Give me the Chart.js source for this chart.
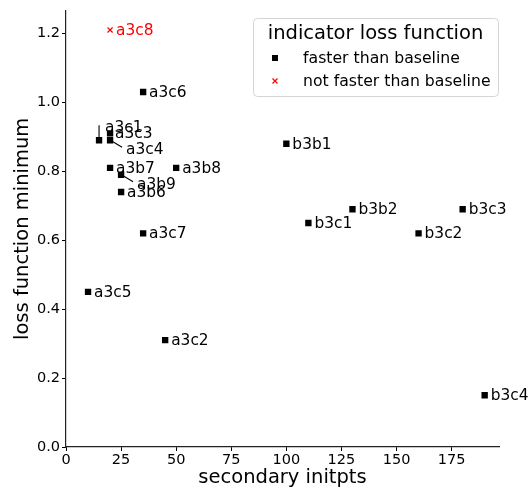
<!DOCTYPE html>
<html>
<head>
<meta charset="utf-8">
<script src="https://cdn.jsdelivr.net/npm/chart.js@4.4.1/dist/chart.umd.min.js"></script>
<style>
  html, body { margin: 0; padding: 0; background: #fff; }
  #wrap { width: 530px; height: 490px; }
</style>
</head>
<body>
<div id="wrap"><canvas id="c" width="530" height="490"></canvas></div>
<script>
// ---- data ----
const names   = ['a3c8','a3c6','a3c1','a3c3','a3c4','a3b7','a3b8','a3b9','a3b6','a3c7','a3c5','a3c2','b3b1','b3c1','b3b2','b3c2','b3c3','b3c4'];
const initpts = [20, 35, 15, 20, 20, 20, 50, 25, 25, 35, 10, 45, 100, 110, 130, 160, 180, 190];
const lossMin = [1.21, 1.03, 0.89, 0.91, 0.89, 0.81, 0.81, 0.79, 0.74, 0.62, 0.45, 0.31, 0.88, 0.65, 0.69, 0.62, 0.69, 0.15];
const faster  = [false, true, true, true, true, true, true, true, true, true, true, true, true, true, true, true, true, true];
const xTicks  = [0, 25, 50, 75, 100, 125, 150, 175];
const yTicks  = [0.0, 0.2, 0.4, 0.6, 0.8, 1.0, 1.2];
const seriesNames = ['faster than baseline', 'not faster than baseline'];
const legendTitle = 'indicator loss function';

// ---- label layout (pixel nudges, not data) ----
const nudge = {
  'a3c1': { dx: 6, dy: -13, line: [0, -3, 0, -15] },
  'a3c3': { dx: 5, dy: 0 },
  'a3c4': { dx: 16, dy: 9, line: [2, 1, 12, 7] },
  'a3b9': { dx: 16, dy: 9, line: [2, 1, 12, 7] }
};

const FONT = 'DejaVu Sans';
const fastPts = [], slowPts = [];
names.forEach((n, i) => {
  const p = { x: initpts[i], y: lossMin[i], name: n };
  (faster[i] ? fastPts : slowPts).push(p);
});

const labelPlugin = {
  id: 'pointLabels',
  afterDatasetsDraw(chart) {
    const ctx = chart.ctx, xs = chart.scales.x, ys = chart.scales.y;
    ctx.save();
    ctx.font = '15.4px "' + FONT + '"';
    ctx.textBaseline = 'middle';
    ctx.textAlign = 'left';
    names.forEach((n, i) => {
      const px = xs.getPixelForValue(initpts[i]);
      const py = ys.getPixelForValue(lossMin[i]);
      const nd = nudge[n] || { dx: 6, dy: 0 };
      const col = faster[i] ? '#000' : '#ff0000';
      if (nd.line) {
        ctx.strokeStyle = '#000';
        ctx.lineWidth = 1.1;
        ctx.beginPath();
        ctx.moveTo(px + nd.line[0], py + nd.line[1]);
        ctx.lineTo(px + nd.line[2], py + nd.line[3]);
        ctx.stroke();
      }
      ctx.fillStyle = col;
      ctx.fillText(n, px + nd.dx, py + nd.dy + 1);
    });
    ctx.restore();
  }
};

const legendPlugin = {
  id: 'customLegend',
  afterDraw(chart) {
    const ctx = chart.ctx;
    const bx = 253, by = 18, bw = 245, bh = 78, r = 4;
    ctx.save();
    ctx.beginPath();
    ctx.roundRect(bx + 0.5, by + 0.5, bw, bh, r);
    ctx.fillStyle = 'rgba(255,255,255,0.8)';
    ctx.fill();
    ctx.strokeStyle = '#d5d5d5';
    ctx.lineWidth = 1;
    ctx.stroke();
    ctx.fillStyle = '#000';
    ctx.textBaseline = 'middle';
    ctx.textAlign = 'center';
    ctx.font = '19.5px "' + FONT + '"';
    ctx.fillText(legendTitle, bx + bw / 2, 34);
    ctx.textAlign = 'left';
    ctx.font = '15.7px "' + FONT + '"';
    // marker 1: square
    ctx.fillStyle = '#000';
    ctx.fillRect(272, 55, 6, 6);
    ctx.fillText(seriesNames[0], 303, 59);
    // marker 2: x
    ctx.strokeStyle = '#ff0000';
    ctx.lineWidth = 1.2;
    ctx.beginPath();
    ctx.moveTo(272.5, 78.5); ctx.lineTo(277.5, 83.5);
    ctx.moveTo(277.5, 78.5); ctx.lineTo(272.5, 83.5);
    ctx.stroke();
    ctx.fillStyle = '#000';
    ctx.fillText(seriesNames[1], 303, 82);
    ctx.restore();
  }
};

new Chart(document.getElementById('c'), {
  type: 'scatter',
  data: {
    datasets: [
      { label: seriesNames[0], data: fastPts, pointStyle: 'rect', pointRadius: 4.5, pointHoverRadius: 4.5,
        backgroundColor: '#000', borderColor: '#000', borderWidth: 0 },
      { label: seriesNames[1], data: slowPts, pointStyle: 'crossRot', pointRadius: 3.6, pointHoverRadius: 3.6,
        backgroundColor: '#ff0000', borderColor: '#ff0000', borderWidth: 1.2 }
    ]
  },
  options: {
    responsive: false,
    animation: false,
    events: [],
    layout: { padding: { top: 10, right: 31, left: 0, bottom: 0 } },
    plugins: { legend: { display: false }, tooltip: { enabled: false } },
    scales: {
      x: {
        type: 'linear', min: 0, max: 196.5,
        afterBuildTicks: s => { s.ticks = xTicks.map(v => ({ value: v })); },
        afterFit: s => { s.height = 43; },
        ticks: { font: { family: FONT, size: 14.5 }, color: '#000', padding: 1, maxRotation: 0,
                 callback: v => String(v) },
        grid: { display: true, drawOnChartArea: false, drawTicks: true, tickLength: 4, color: '#000', lineWidth: 1 },
        border: { display: true, color: '#222', width: 1.2 },
        title: { display: true, text: 'secondary initpts', font: { family: FONT, size: 19.5 }, color: '#000',
                 padding: { top: 0, bottom: 0 } }
      },
      y: {
        type: 'linear', min: 0, max: 1.266,
        afterBuildTicks: s => { s.ticks = yTicks.map(v => ({ value: v })); },
        afterFit: s => { s.width = 66; },
        ticks: { font: { family: FONT, size: 14.5 }, color: '#000', padding: 2,
                 callback: v => Number(v).toFixed(1) },
        grid: { display: true, drawOnChartArea: false, drawTicks: true, tickLength: 4, color: '#000', lineWidth: 1 },
        border: { display: true, color: '#222', width: 1.2 },
        title: { display: true, text: 'loss function minimum', font: { family: FONT, size: 19.5 }, color: '#000',
                 padding: { top: 11, bottom: 0 } }
      }
    }
  },
  plugins: [labelPlugin, legendPlugin]
});
</script>
</body>
</html>
